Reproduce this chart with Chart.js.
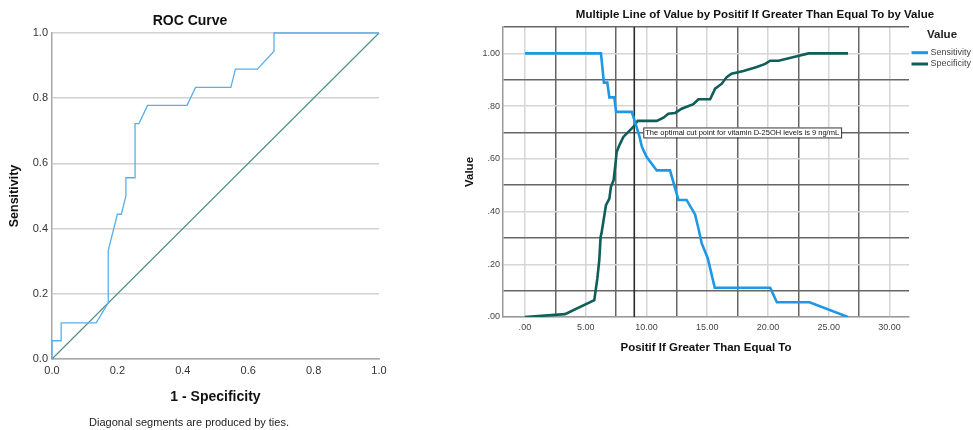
<!DOCTYPE html>
<html>
<head>
<meta charset="utf-8">
<script src="https://cdn.jsdelivr.net/npm/chart.js@4.4.1/dist/chart.umd.min.js"></script>
<style>
  body { margin: 0; background: #fff; width: 973px; height: 430px; position: relative; overflow: hidden; }
  #roc { position: absolute; left: 0; top: 0; }
  #cut { position: absolute; left: 440px; top: 0; }
</style>
</head>
<body>
<canvas id="roc" width="400" height="430"></canvas>
<canvas id="cut" width="533" height="430"></canvas>
<script>
// ROC curve (1 - specificity vs sensitivity)
var rocFpr  = [0, 0, 0.028, 0.028, 0.135, 0.172, 0.172, 0.200, 0.212, 0.226, 0.226, 0.254, 0.254, 0.266, 0.292, 0.413, 0.439, 0.547, 0.561, 0.628, 0.679, 0.679, 1.0];
var rocSens = [0, 0.056, 0.056, 0.111, 0.111, 0.172, 0.333, 0.444, 0.444, 0.5, 0.556, 0.556, 0.722, 0.722, 0.778, 0.778, 0.833, 0.833, 0.889, 0.889, 0.944, 1.0, 1.0];
var diagX = [0, 1];
var diagY = [0, 1];
var rocTicks = [0, 0.2, 0.4, 0.6, 0.8, 1.0];

// sensitivity / specificity by cut point
var sensCut   = [0, 6.26, 6.5, 6.78, 6.95, 7.36, 7.5, 8.79, 9.06, 9.42, 9.6, 9.75, 10.02, 10.85, 11.94, 12.63, 13.3, 14.0, 14.28, 14.55, 15.05, 15.62, 20.18, 20.73, 23.42, 26.58];
var sensValue = [1.0, 1.0, 0.889, 0.889, 0.833, 0.833, 0.778, 0.778, 0.74, 0.686, 0.65, 0.633, 0.607, 0.556, 0.556, 0.444, 0.444, 0.389, 0.336, 0.279, 0.222, 0.111, 0.111, 0.056, 0.056, 0];
var specCut   = [0, 3.3, 5.71, 5.96, 6.12, 6.23, 6.3, 6.67, 6.95, 7.08, 7.3, 7.45, 7.55, 7.77, 8.1, 8.51, 8.92, 9.28, 10.85, 11.4, 11.8, 12.36, 12.9, 13.86, 14.28, 15.24, 15.65, 16.2, 16.6, 17.0, 17.98, 19.08, 19.77, 20.18, 20.87, 22.38, 23.34, 26.58];
var specValue = [0, 0.011, 0.064, 0.146, 0.216, 0.304, 0.317, 0.424, 0.449, 0.494, 0.519, 0.58, 0.626, 0.651, 0.683, 0.702, 0.721, 0.744, 0.744, 0.756, 0.771, 0.774, 0.79, 0.807, 0.826, 0.826, 0.866, 0.885, 0.91, 0.923, 0.933, 0.948, 0.96, 0.972, 0.972, 0.989, 1.0, 1.0];
var cutPoint = 9;
var cutTicks = [0, 2.5, 5, 7.5, 10, 12.5, 15, 17.5, 20, 22.5, 25, 27.5, 30];
var valueTicks = [0, 0.1, 0.2, 0.3, 0.4, 0.5, 0.6, 0.7, 0.8, 0.9, 1.0, 1.1];

var FONT = 'Arial, "Liberation Sans", sans-serif';
Chart.defaults.font.family = FONT;

function pts(xs, ys) {
  return xs.map(function (x, i) { return { x: x, y: ys[i] }; });
}

// spss style: ".20", "5.00"
function spssNum(v) {
  var s = v.toFixed(2);
  return s.charAt(0) === '0' ? s.slice(1) : s;
}

function setTicks(list) {
  return function (scale) {
    scale.ticks = list.map(function (v) { return { value: v }; });
  };
}

function drawText(ctx, text, x, y, font, color, align) {
  ctx.save();
  ctx.font = font;
  ctx.fillStyle = color;
  ctx.textAlign = align || 'center';
  ctx.textBaseline = 'middle';
  ctx.fillText(text, x, y);
  ctx.restore();
}

// ---------- left: ROC ----------
var rocCaptions = {
  id: 'rocCaptions',
  afterDraw: function (chart) {
    var ctx = chart.ctx;
    drawText(ctx, 'ROC Curve', 190, 21, 'bold 14px ' + FONT, '#111');
    drawText(ctx, 'Diagonal segments are produced by ties.', 189, 423, '11px ' + FONT, '#222');
  }
};

new Chart(document.getElementById('roc').getContext('2d'), {
  type: 'scatter',
  data: {
    datasets: [
      { label: 'ROC', data: pts(rocFpr, rocSens), showLine: true, borderColor: '#5aaeea', borderWidth: 1.3, pointRadius: 0, clip: false },
      { label: 'Reference Line', data: pts(diagX, diagY), showLine: true, borderColor: '#4a8f88', borderWidth: 1.1, pointRadius: 0, clip: false }
    ]
  },
  options: {
    responsive: false,
    animation: false,
    layout: { padding: { top: 33, right: 21, bottom: 20, left: 0 } },
    plugins: { legend: { display: false }, tooltip: { enabled: false } },
    scales: {
      x: {
        type: 'linear', min: 0, max: 1,
        afterBuildTicks: setTicks(rocTicks),
        afterFit: function (s) { s.height = 51; },
        grid: { display: false, drawTicks: false },
        border: { display: true, color: '#a8a8a8', width: 1.5 },
        ticks: { padding: 5, color: '#333', font: { size: 11 }, autoSkip: false, maxRotation: 0,
                 callback: function (v) { return v.toFixed(1); } },
        title: { display: true, text: '1 - Specificity', color: '#111', font: { size: 14, weight: 'bold' }, padding: { top: 4, bottom: 4 } }
      },
      y: {
        type: 'linear', min: 0, max: 1,
        afterBuildTicks: setTicks(rocTicks),
        afterFit: function (s) { s.width = 52; },
        grid: { color: '#d2d2d2', lineWidth: 1.5, drawTicks: false },
        border: { display: true, color: '#a8a8a8', width: 1.5 },
        ticks: { padding: 4, color: '#333', font: { size: 11 }, autoSkip: false,
                 callback: function (v) { return v.toFixed(1); } },
        title: { display: true, text: 'Sensitivity', color: '#111', font: { size: 12.5, weight: 'bold' }, padding: { top: 7, bottom: 0 } }
      }
    }
  },
  plugins: [rocCaptions]
});

// ---------- right: sensitivity / specificity ----------
var LIGHT = '#d6d6d6';
var DARK = '#666666';

var cutExtras = {
  id: 'cutExtras',
  afterDatasetsDraw: function (chart) {
    var ctx = chart.ctx;
    var xs = chart.scales.x, ys = chart.scales.y;
    var px = xs.getPixelForValue(cutPoint) + 9;
    var py = ys.getPixelForValue(0.7);
    var note = 'The optimal cut point for vitamin D-25OH levels is 9 ng/mL';
    ctx.save();
    ctx.font = '7.5px ' + FONT;
    var w = ctx.measureText(note).width;
    ctx.fillStyle = '#fff';
    ctx.fillRect(px, py - 5, w + 4, 10);
    ctx.strokeStyle = '#333';
    ctx.lineWidth = 1;
    ctx.strokeRect(px + 0.5, py - 5 + 0.5, w + 4, 10);
    ctx.fillStyle = '#111';
    ctx.textBaseline = 'middle';
    ctx.fillText(note, px + 2, py + 0.5);
    ctx.restore();
  },
  afterDraw: function (chart) {
    var ctx = chart.ctx;
    drawText(ctx, 'Multiple Line of Value by Positif If Greater Than Equal To by Value', 315, 15, 'bold 11.5px ' + FONT, '#111');
    // legend
    drawText(ctx, 'Value', 502, 35, 'bold 11.5px ' + FONT, '#222');
    var rows = [52.7, 64];
    for (var i = 0; i < 2; i++) {
      var ds = chart.data.datasets[i];
      ctx.save();
      ctx.strokeStyle = ds.borderColor;
      ctx.lineWidth = 3;
      ctx.beginPath();
      ctx.moveTo(471.5, rows[i]);
      ctx.lineTo(488, rows[i]);
      ctx.stroke();
      ctx.restore();
      drawText(ctx, ds.label, 490.5, rows[i], '9px ' + FONT, '#444', 'left');
    }
  }
};

new Chart(document.getElementById('cut').getContext('2d'), {
  type: 'scatter',
  data: {
    datasets: [
      { label: 'Sensitivity', data: pts(sensCut, sensValue), showLine: true, borderColor: '#1c98e6', borderWidth: 2.6, pointRadius: 0 },
      { label: 'Specificity', data: pts(specCut, specValue), showLine: true, borderColor: '#0f5e5a', borderWidth: 2.6, pointRadius: 0 },
      { label: 'cut', data: [{ x: cutPoint, y: 0 }, { x: cutPoint, y: 1.1 }], showLine: true, borderColor: '#2a2a2a', borderWidth: 1.6, pointRadius: 0 }
    ]
  },
  options: {
    responsive: false,
    animation: false,
    layout: { padding: { top: 27, right: 64, bottom: 65, left: 0 } },
    plugins: { legend: { display: false }, tooltip: { enabled: false } },
    scales: {
      x: {
        type: 'linear', min: -1.8, max: 31.6,
        afterBuildTicks: setTicks(cutTicks),
        afterFit: function (s) { s.height = 48; },
        grid: {
          drawTicks: false, lineWidth: 1.5,
          color: function (c) { return c.tick && c.tick.value % 5 === 0 ? LIGHT : DARK; }
        },
        border: { display: true, color: '#9a9a9a', width: 1.5 },
        ticks: { padding: 5, color: '#444', font: { size: 9 }, autoSkip: false, maxRotation: 0,
                 callback: function (v) { return v % 5 === 0 ? spssNum(v) : ''; } },
        title: { display: true, text: 'Positif If Greater Than Equal To', color: '#111', font: { size: 11.5, weight: 'bold' }, padding: { top: 4, bottom: 10 } }
      },
      y: {
        type: 'linear', min: 0, max: 1.1,
        afterBuildTicks: setTicks(valueTicks),
        afterFit: function (s) { s.width = 63; },
        grid: {
          drawTicks: false, lineWidth: 1.5,
          color: function (c) { return c.tick && Math.round(c.tick.value * 10) % 2 === 0 ? LIGHT : DARK; }
        },
        border: { display: true, color: '#9a9a9a', width: 1.5 },
        ticks: { padding: 3, color: '#444', font: { size: 9 }, autoSkip: false,
                 callback: function (v) { var k = Math.round(v * 10); return (k % 2 === 0 && k <= 10) ? spssNum(v) : ''; } },
        title: { display: true, text: 'Value', color: '#111', font: { size: 11.5, weight: 'bold' }, padding: { top: 23, bottom: 0 } }
      }
    }
  },
  plugins: [cutExtras]
});
</script>
</body>
</html>
